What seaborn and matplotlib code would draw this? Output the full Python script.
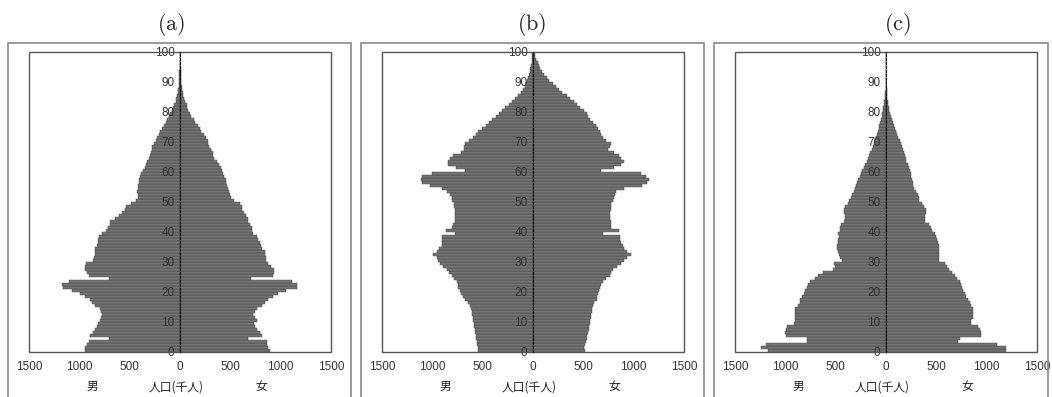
import matplotlib
matplotlib.use("Agg")
import matplotlib.pyplot as plt
import pandas as pd
import seaborn as sns
from matplotlib.patches import Rectangle

# ages 0..100, population in thousands
ages = list(range(101))

male_a = [940, 940, 920, 900, 710, 890, 860, 840, 820, 810,
          795, 785, 775, 785, 795, 840, 870, 890, 940, 990,
          1070, 1165, 1170, 1100, 710, 905, 920, 940, 940, 935,
          860, 850, 845, 840, 840, 825, 810, 810, 808, 775,
          740, 712, 700, 695, 650, 610, 580, 550, 535, 485,
          440, 414, 420, 427, 420, 414, 410, 404, 398, 392,
          370, 350, 342, 325, 310, 300, 291, 283, 275, 255,
          243, 225, 212, 194, 175, 160, 140, 130, 113, 95,
          81, 70, 60, 42, 35, 25, 18, 15, 13, 11,
          9, 7, 6, 5, 4, 3, 2, 2, 1, 1, 1]
female_a = [890, 875, 868, 860, 680, 810, 790, 760, 745, 735,
            760, 745, 730, 745, 760, 810, 840, 875, 920, 970,
            1050, 1160, 1165, 1115, 710, 920, 930, 938, 900, 875,
            857, 850, 845, 840, 810, 800, 793, 775, 760, 728,
            720, 712, 695, 680, 680, 655, 631, 620, 615, 599,
            540, 502, 495, 485, 477, 469, 460, 453, 440, 427,
            415, 404, 388, 365, 340, 332, 324, 305, 291, 283,
            275, 258, 243, 210, 195, 178, 150, 140, 113, 95,
            81, 72, 65, 49, 40, 32, 28, 24, 16, 14,
            12, 10, 8, 6, 5, 4, 3, 2, 2, 1, 1]

male_b = [544, 550, 552, 558, 566, 570, 576, 580, 584, 589,
          594, 599, 605, 610, 615, 630, 647, 680, 695, 712,
          728, 744, 748, 751, 780, 809, 830, 857, 890, 922,
          940, 955, 997, 955, 938, 906, 900, 900, 900, 777,
          867, 809, 790, 777, 772, 770, 772, 777, 780, 783,
          800, 809, 820, 857, 900, 1019, 1100, 1116, 1100, 1000,
          680, 760, 841, 848, 825, 790, 720, 685, 686, 680,
          631, 599, 566, 544, 511, 469, 437, 404, 372, 340,
          307, 275, 243, 210, 178, 146, 123, 104, 81, 65,
          58, 49, 39, 32, 26, 19, 13, 10, 8, 6, 4]
female_b = [518, 511, 515, 525, 534, 540, 550, 555, 560, 566,
            570, 576, 580, 585, 589, 598, 608, 631, 640, 647,
            655, 663, 680, 696, 730, 760, 775, 793, 830, 874,
            905, 938, 971, 938, 906, 890, 874, 867, 867, 696,
            857, 777, 773, 770, 765, 760, 765, 770, 773, 777,
            790, 809, 815, 825, 900, 1084, 1133, 1149, 1120, 1068,
            680, 800, 874, 900, 874, 857, 809, 744, 760, 770,
            728, 696, 680, 663, 647, 621, 599, 566, 550, 534,
            502, 469, 437, 404, 372, 333, 291, 259, 227, 194,
            162, 136, 113, 91, 71, 58, 45, 32, 20, 15, 10]

male_c = [1175, 1239, 1191, 786, 786, 997, 1003, 990, 981, 916,
          900, 906, 906, 906, 900, 874, 857, 851, 835, 819,
          803, 786, 770, 754, 705, 673, 625, 527, 511, 518,
          440, 453, 463, 479, 485, 485, 479, 472, 463, 472,
          453, 453, 447, 421, 408, 408, 414, 414, 408, 382,
          366, 350, 333, 317, 311, 301, 285, 275, 259, 252,
          236, 220, 204, 188, 181, 172, 155, 139, 129, 123,
          107, 97, 91, 81, 71, 65, 55, 49, 42, 36,
          30, 25, 20, 15, 11, 8, 5, 4, 3, 2,
          1, 1, 1, 0, 0, 0, 0, 0, 0, 0, 0]
female_c = [1197, 1188, 1107, 718, 735, 945, 945, 929, 913, 848,
            848, 864, 864, 864, 864, 848, 832, 815, 799, 783,
            767, 757, 744, 735, 702, 686, 654, 621, 605, 589,
            524, 531, 524, 524, 524, 531, 518, 508, 492, 485,
            460, 443, 427, 388, 388, 388, 395, 395, 379, 356,
            330, 330, 314, 298, 282, 272, 265, 259, 252, 249,
            239, 233, 217, 201, 194, 184, 175, 168, 162, 152,
            136, 123, 110, 97, 87, 78, 65, 55, 45, 39,
            34, 28, 22, 17, 13, 9, 7, 5, 3, 2,
            2, 1, 1, 1, 0, 0, 0, 0, 0, 0, 0]

panel_titles = ["(a)", "(b)", "(c)"]
x_ticks = [-1500, -1000, -500, 0, 500, 1000, 1500]
y_ticks = list(range(0, 101, 10))
bottom_labels = ["男", "人口(千人)", "女"]

sns.set_style("white")
plt.rcParams["font.family"] = ["Liberation Sans", "Noto Sans CJK JP"]
plt.rcParams["mathtext.fontset"] = "cm"
plt.rcParams["axes.axisbelow"] = False

W, H = 1052, 397
fig = plt.figure(figsize=(W / 100, H / 100), dpi=100)

# pixel layout of the outer frames, inner boxes and titles
frame_x = [(8, 351), (361, 704), (714, 1048)]
box_left = [29, 382, 735]
title_x = [171, 532, 897]

panels = [(male_a, female_a), (male_b, female_b), (male_c, female_c)]

for i, (male, female) in enumerate(panels):
    # outer frame
    x0, x1 = frame_x[i]
    fig.add_artist(Rectangle((x0 / W, -0.02), (x1 - x0) / W, 1 - 43 / H + 0.02,
                             transform=fig.transFigure, fill=False,
                             edgecolor="#8a8a8a", linewidth=1.2))
    fig.text(title_x[i] / W, 1 - 25 / H, r"$\mathrm{%s}$" % panel_titles[i],
             ha="center", va="center", fontsize=16)

    ax = fig.add_axes([box_left[i] / W, 1 - 351.5 / H, 302 / W, 300 / H])
    ax.set_axisbelow(False)

    left = pd.DataFrame({"pop": [-v for v in male], "age": [a + 0.5 for a in ages]})
    right = pd.DataFrame({"pop": female, "age": [a + 0.5 for a in ages]})
    for df in (left, right):
        sns.barplot(data=df, x="pop", y="age", orient="y", native_scale=True,
                    width=1.0, color="#747474", saturation=1, errorbar=None,
                    edgecolor="#3e3e3e", linewidth=0.3, ax=ax)

    ax.set_xlim(-1500, 1500)
    ax.set_ylim(0, 100)
    ax.set_xticks(x_ticks)
    ax.set_xticklabels([str(abs(t)) for t in x_ticks])
    ax.set_yticks(y_ticks)
    ax.set_yticklabels([str(t) for t in y_ticks])
    ax.set_xlabel("")
    ax.set_ylabel("")

    for s in ["top", "right", "bottom"]:
        ax.spines[s].set_visible(False)
    # age axis sits on the centre line, drawn dotted
    ax.spines["left"].set_position(("data", 0))
    ax.spines["left"].set_linestyle((0, (2.0, 1.5)))
    ax.spines["left"].set_color("#111111")
    ax.spines["left"].set_linewidth(0.8)
    ax.spines["left"].set_zorder(4)
    ax.add_patch(Rectangle((0, 0), 1, 1, transform=ax.transAxes, fill=False,
                           edgecolor="#555555", linewidth=1.0, clip_on=False, zorder=3))

    ax.tick_params(axis="x", direction="in", length=2.5, width=0.8, pad=7,
                   labelsize=8.5, colors="#333333")
    ax.tick_params(axis="y", direction="out", length=3, width=0.8, pad=1,
                   labelsize=8.5, colors="#333333")

    for xpos, s in zip([-867, -35, 810], bottom_labels):
        ax.text(xpos, -0.117, s, transform=ax.get_xaxis_transform(),
                ha="center", va="center", fontsize=8.5, color="#222222",
                family=["Noto Sans CJK JP"])

fig.savefig("out.png", dpi=100, facecolor="white")
